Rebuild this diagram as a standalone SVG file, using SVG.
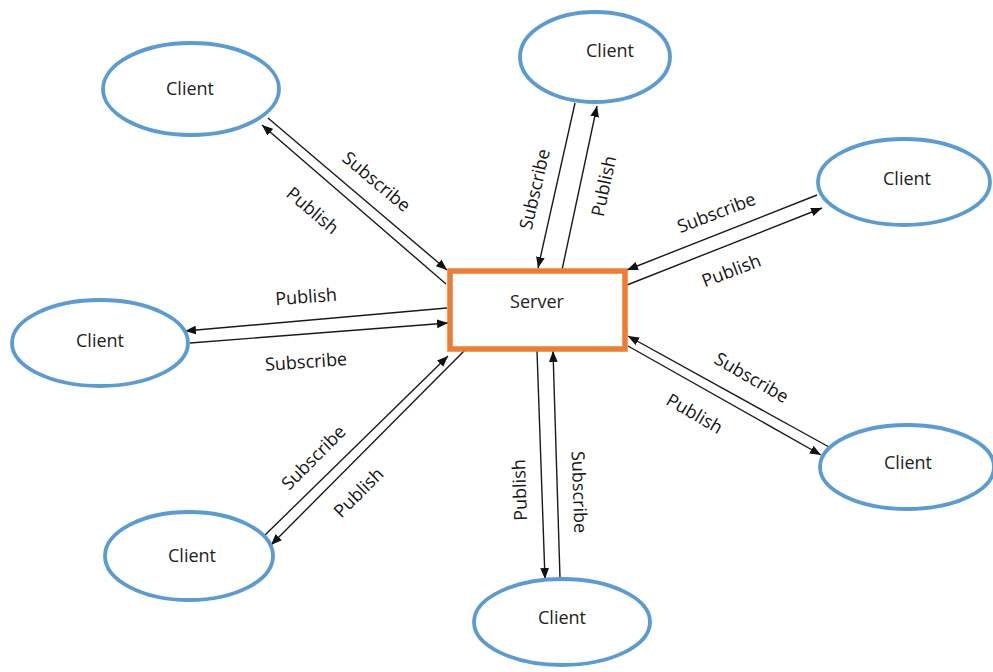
<svg xmlns="http://www.w3.org/2000/svg" width="993" height="672" viewBox="0 0 993 672">
  <style>
    .client { fill: #ffffff; stroke: #5b9bd5; stroke-width: 3.8; }
    .server { fill: #ffffff; stroke: #ed7d31; stroke-width: 5.5; }
    .name { font-family: "Open Sans", "Liberation Sans", sans-serif; font-size: 18px; fill: #222222; text-anchor: middle; dominant-baseline: central; }
    .lbl { font-family: "Open Sans", "Liberation Sans", sans-serif; font-size: 18px; fill: #151515; text-anchor: middle; dominant-baseline: central; }
    .wire { fill: none; stroke: #1a1a1a; stroke-width: 1.4; marker-end: url(#head); }
  </style>
  <defs>
    <marker id="head" viewBox="0 0 10 8" refX="10" refY="4" markerWidth="11" markerHeight="9" markerUnits="userSpaceOnUse" orient="auto">
      <path d="M0,0 L10,4 L0,8 z" fill="#111111"/>
    </marker>
  </defs>
  <rect width="993" height="672" fill="#ffffff"/>

  <!-- message links between each client and the broker -->
  <g id="connectors">
    <!-- top-left client -->
    <path class="wire" d="M268,118 L447,270"/>
    <path class="wire" d="M446,284 L262,125"/>
    <!-- top client -->
    <path class="wire" d="M575,103 L538,268"/>
    <path class="wire" d="M562,270 L597,106"/>
    <!-- top-right client -->
    <path class="wire" d="M817,195 L627,270"/>
    <path class="wire" d="M627,285 L822,208"/>
    <!-- left client -->
    <path class="wire" d="M447,308 L185,331"/>
    <path class="wire" d="M190,343 L448,323"/>
    <!-- bottom-left client -->
    <path class="wire" d="M263,537 L448,356"/>
    <path class="wire" d="M466,349 L271,545"/>
    <!-- bottom client -->
    <path class="wire" d="M537,351 L545,579"/>
    <path class="wire" d="M560,578 L553,351"/>
    <!-- right client -->
    <path class="wire" d="M829,447 L628,336"/>
    <path class="wire" d="M628,346 L821,455"/>
  </g>

  <!-- link labels -->
  <g id="labels">
    <text class="lbl" transform="translate(377,181) rotate(40)">Subscribe</text>
    <text class="lbl" transform="translate(313,210) rotate(40)">Publish</text>
    <text class="lbl" transform="translate(534,189) rotate(-77)">Subscribe</text>
    <text class="lbl" transform="translate(603,186) rotate(-78)">Publish</text>
    <text class="lbl" transform="translate(716,212) rotate(-21)">Subscribe</text>
    <text class="lbl" transform="translate(731,270) rotate(-21)">Publish</text>
    <text class="lbl" transform="translate(306,296) rotate(-4)">Publish</text>
    <text class="lbl" transform="translate(306,361) rotate(-4)">Subscribe</text>
    <text class="lbl" transform="translate(313,457) rotate(-45)">Subscribe</text>
    <text class="lbl" transform="translate(358,492) rotate(-45)">Publish</text>
    <text class="lbl" transform="translate(519,490) rotate(-92)">Publish</text>
    <text class="lbl" transform="translate(580,492) rotate(88)">Subscribe</text>
    <text class="lbl" transform="translate(752,377) rotate(30)">Subscribe</text>
    <text class="lbl" transform="translate(695,413) rotate(30)">Publish</text>
  </g>

  <g id="server">
    <rect class="server" x="450" y="271" width="175" height="78"/>
    <text class="name" x="537" y="301">Server</text>
  </g>

  <g id="client-top-left">
    <ellipse class="client" cx="191" cy="89" rx="88" ry="46"/>
    <text class="name" x="190" y="88">Client</text>
  </g>
  <g id="client-top">
    <ellipse class="client" cx="595" cy="57" rx="75" ry="45"/>
    <text class="name" x="610" y="50">Client</text>
  </g>
  <g id="client-top-right">
    <ellipse class="client" cx="904" cy="182" rx="86" ry="43"/>
    <text class="name" x="907" y="178">Client</text>
  </g>
  <g id="client-left">
    <ellipse class="client" cx="100" cy="343" rx="88" ry="43"/>
    <text class="name" x="100" y="340">Client</text>
  </g>
  <g id="client-right">
    <ellipse class="client" cx="907" cy="467" rx="87" ry="42"/>
    <text class="name" x="908" y="462">Client</text>
  </g>
  <g id="client-bottom-left">
    <ellipse class="client" cx="189" cy="556" rx="84" ry="44"/>
    <text class="name" x="192" y="555">Client</text>
  </g>
  <g id="client-bottom">
    <ellipse class="client" cx="562" cy="622" rx="88" ry="43"/>
    <text class="name" x="562" y="617">Client</text>
  </g>
</svg>
